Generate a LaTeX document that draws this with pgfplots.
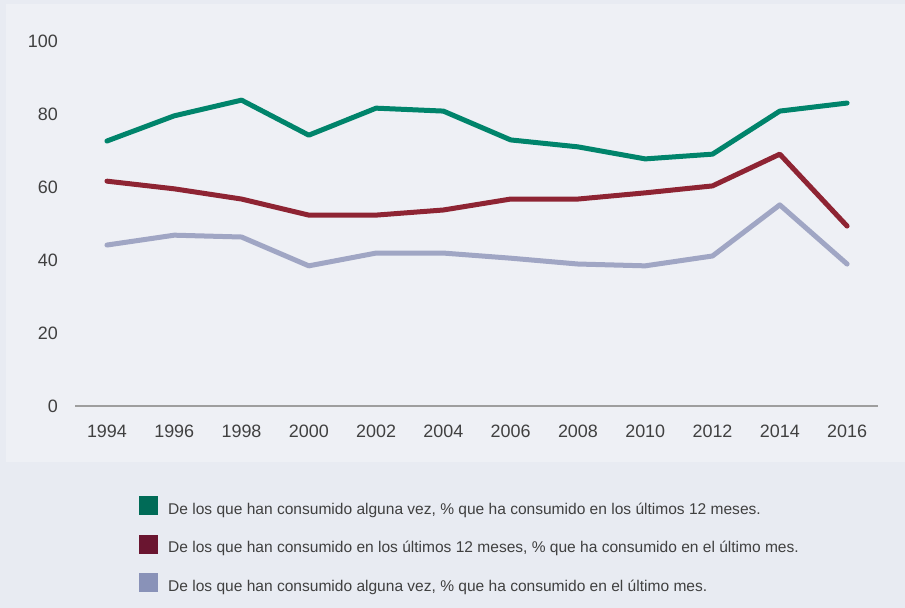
\documentclass[border=0pt]{standalone}
\usepackage{pgfplots}
\pgfplotsset{compat=1.18}
\usepackage{fontspec}
\setmainfont{Liberation Sans}

\definecolor{outerbg}{HTML}{E8EBF2}
\definecolor{innerbg}{HTML}{EEF0F5}
\definecolor{lgreen}{HTML}{00846B}
\definecolor{lred}{HTML}{8E2433}
\definecolor{lblue}{HTML}{A0A6C4}
\definecolor{sqgreen}{HTML}{006B57}
\definecolor{sqred}{HTML}{6A1530}
\definecolor{sqblue}{HTML}{8992B8}
\definecolor{ticktext}{HTML}{404040}

\begin{document}
\begin{tikzpicture}
% background panels
\fill[outerbg] (0,0) rectangle (905bp,-608bp);
\fill[innerbg] (6bp,-4bp) rectangle (905bp,-462bp);

\begin{axis}[
    at={(75bp,-406bp)}, anchor=south west,
    scale only axis,
    width=803bp, height=365bp,
    xmin=1993.05, xmax=2016.92,
    ymin=0, ymax=100,
    axis x line*=bottom,
    axis y line*=left,
    axis line style={-},
    x axis line style={draw=black!38, line width=2bp},
    y axis line style={draw=none},
    tick style={draw=none},
    xtick={1994,1996,...,2016},
    ytick={0,20,...,100},
    /pgf/number format/assume math mode=true,
    /pgf/number format/1000 sep={},
    ticklabel style={font=\fontsize{18}{20}\selectfont, text=ticktext},
    xticklabel style={inner sep=0pt, anchor=north, yshift=-19bp},
    yticklabel style={inner sep=0pt, anchor=east, xshift=-17bp},
    clip=false,
    legend cell align=left,
    legend style={
        at={(0.0797,-0.2466)}, anchor=north west,
        draw=none, fill=none, inner sep=0pt,
        row sep=18.5bp,
        font=\fontsize{15.6}{17}\selectfont,
        text=ticktext,
        nodes={inner sep=0pt},
        /tikz/every odd column/.append style={column sep=10bp},
    },
    every axis plot/.append style={line width=5bp, line join=round, line cap=round},
]
\addplot[color=lgreen,
    legend image code/.code={\fill[sqgreen, draw=none] (0bp,-5.6bp) rectangle (19bp,13.4bp);}]
coordinates {
(1994,72.6) (1996,79.5) (1998,83.8) (2000,74.2) (2002,81.6) (2004,80.8)
(2006,72.9) (2008,71.0) (2010,67.7) (2012,69.0) (2014,80.8) (2016,83.0)
};
\addlegendentry{De los que han consumido alguna vez, \% que ha consumido en los últimos 12 meses.}

\addplot[color=lred,
    legend image code/.code={\fill[sqred, draw=none] (0bp,-5.6bp) rectangle (19bp,13.4bp);}]
coordinates {
(1994,61.6) (1996,59.5) (1998,56.7) (2000,52.3) (2002,52.3) (2004,53.7)
(2006,56.7) (2008,56.7) (2010,58.4) (2012,60.3) (2014,69.0) (2016,49.3)
};
\addlegendentry{De los que han consumido en los últimos 12 meses, \% que ha consumido en el último mes.}

\addplot[color=lblue,
    legend image code/.code={\fill[sqblue, draw=none] (0bp,-5.6bp) rectangle (19bp,13.4bp);}]
coordinates {
(1994,44.1) (1996,46.8) (1998,46.3) (2000,38.4) (2002,41.9) (2004,41.9)
(2006,40.5) (2008,38.9) (2010,38.4) (2012,41.1) (2014,55.1) (2016,38.9)
};
\addlegendentry{De los que han consumido alguna vez, \% que ha consumido en el último mes.}
\end{axis}
\end{tikzpicture}
\end{document}
